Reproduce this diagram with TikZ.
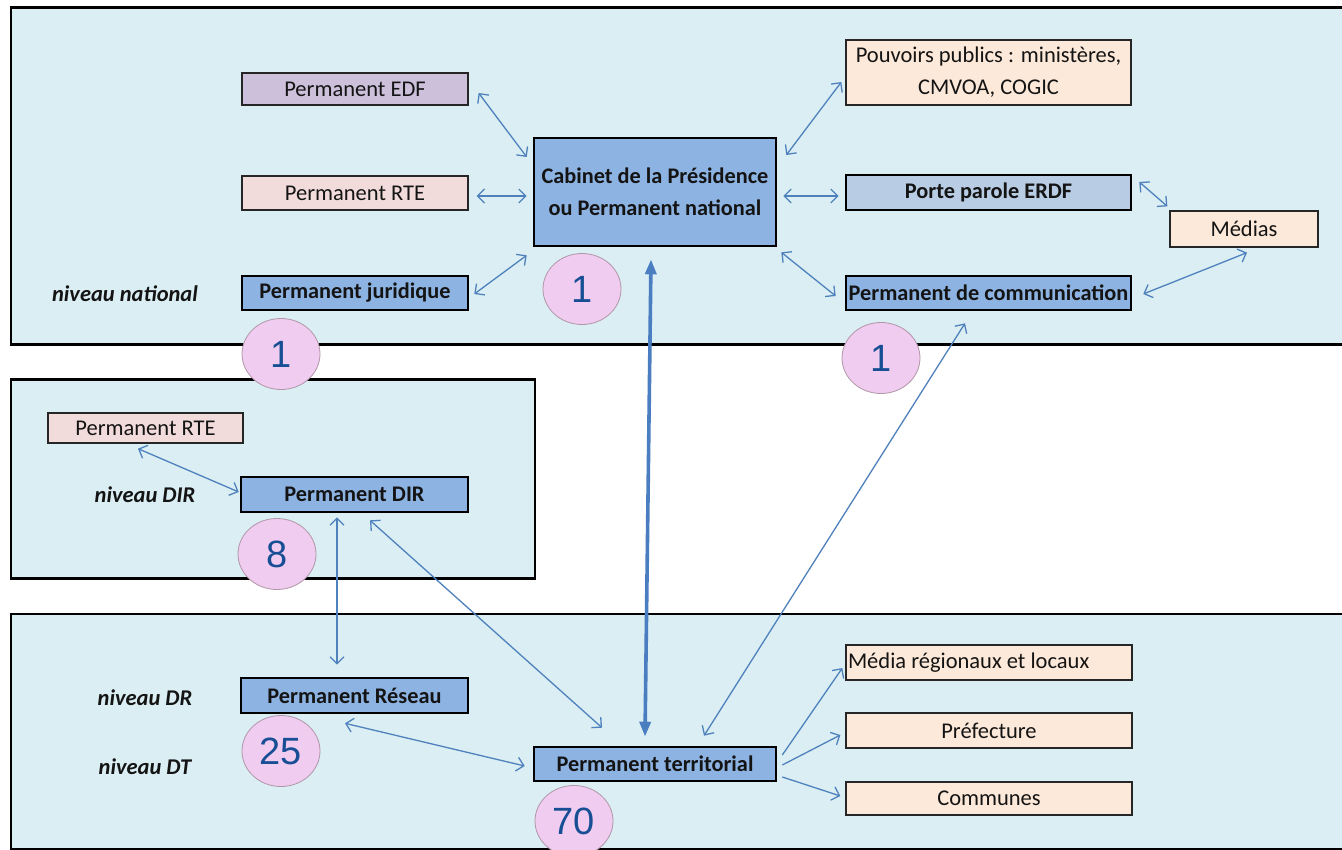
\documentclass[tikz,border=0pt]{standalone}
\usepackage{fontspec}
\setmainfont{Carlito}
\newfontfamily\numfont{Liberation Sans}
\usetikzlibrary{arrows.meta,calc,shapes.geometric}
\definecolor{framebg}{RGB}{218,238,243}
\definecolor{bluebox}{RGB}{141,179,226}
\definecolor{lightblue}{RGB}{184,204,228}
\definecolor{lavbox}{RGB}{204,192,218}
\definecolor{pinkbox}{RGB}{242,220,219}
\definecolor{peachbox}{RGB}{253,233,217}
\definecolor{arrowcol}{RGB}{79,129,189}
\definecolor{thickcol}{RGB}{74,126,193}
\definecolor{circfill}{RGB}{240,204,240}
\definecolor{circline}{RGB}{176,150,168}
\definecolor{numcol}{RGB}{24,78,148}
\definecolor{txt}{RGB}{20,20,20}
\tikzset{
  frame/.style={draw=black, line width=2.6pt, fill=framebg, rectangle, inner sep=0pt},
  plainbox/.style={draw=black!85, line width=1.3pt, rectangle, inner sep=0pt,
    font=\fontsize{22.5}{32}\selectfont, text=txt, align=center},
  boldbox/.style={draw=black, line width=2.6pt, rectangle, inner sep=0pt,
    font=\fontsize{22.3}{32}\selectfont\bfseries, text=txt, align=center, fill=bluebox},
  level/.style={font=\fontsize{22.5}{26}\selectfont\bfseries\itshape, text=txt, inner sep=0pt},
  count/.style={ellipse, draw=circline, line width=0.8pt, fill=circfill,
    minimum width=78pt, minimum height=71pt, inner sep=0pt,
    font=\numfont\fontsize{38}{40}\selectfont, text=numcol},
  link/.style={draw=arrowcol, line width=1.3pt,
    {Straight Barb[length=7pt,width=14pt,line width=1.3pt]}-{Straight Barb[length=7pt,width=14pt,line width=1.3pt]}},
  oneway/.style={draw=arrowcol, line width=1.3pt,
    -{Straight Barb[length=7pt,width=14pt,line width=1.3pt]}},
  biglink/.style={draw=thickcol, line width=3.6pt,
    {Triangle[length=15pt,width=11pt]}-{Triangle[length=15pt,width=11pt]}}
}
\begin{document}
\begin{tikzpicture}[x=1pt,y=-1pt]
\useasboundingbox (0,0) rectangle (1342,850);
\clip (0,0) rectangle (1342,850);
\fill[white] (0,0) rectangle (1342,850);
% frames
\node[frame, minimum width=1400pt, minimum height=337pt, anchor=north west] (fnat) at (9.5,6.5) {};
\node[frame, minimum width=524pt, minimum height=199pt, anchor=north west] (fdir) at (9.5,378) {};
\node[frame, minimum width=1400pt, minimum height=235pt, anchor=north west] (fdt) at (9.5,612.5) {};
% national boxes
\node[plainbox, fill=lavbox, minimum width=226pt, minimum height=32pt] (edf) at (355,89) {Permanent EDF};
\node[plainbox, fill=pinkbox, minimum width=226pt, minimum height=34pt] (rte1) at (355,193) {Permanent RTE};
\node[boldbox, minimum width=226pt, minimum height=34pt] (jur) at (355,293) {Permanent juridique};
\node[boldbox, minimum width=242pt, minimum height=108pt] (cab) at (655,192) {Cabinet de la Présidence\\ou Permanent national};
\node[plainbox, fill=peachbox, minimum width=285pt, minimum height=65pt] (pouv) at (988.5,72.5) {Pouvoirs publics : ministères,\\CMVOA, COGIC};
\node[boldbox, fill=lightblue, minimum width=285pt, minimum height=35pt] (porte) at (988.5,192.5) {Porte parole ERDF};
\node[plainbox, fill=peachbox, minimum width=148pt, minimum height=36pt] (medias) at (1244,229) {Médias};
\node[boldbox, minimum width=285pt, minimum height=34pt] (comm) at (988.5,293) {Permanent de communication};
\node[level] (lnat) at (125,294) {niveau national};
% DIR
\node[plainbox, fill=pinkbox, minimum width=195pt, minimum height=30pt] (rte2) at (145.5,428) {Permanent RTE};
\node[boldbox, minimum width=227pt, minimum height=35pt] (dir) at (354.5,494.5) {Permanent DIR};
\node[level] (ldir) at (145,495) {niveau DIR};
% DR / DT
\node[boldbox, minimum width=227pt, minimum height=35pt] (res) at (354.5,695.5) {Permanent Réseau};
\node[boldbox, minimum width=242pt, minimum height=34pt] (terr) at (655,764) {Permanent territorial};
\node[level] (ldr) at (145,698) {niveau DR};
\node[level] (ldt) at (145,767) {niveau DT};
\node[plainbox, fill=peachbox, minimum width=286pt, minimum height=35pt, text width=282pt, align=flush left] (mrl) at (989,662.5) {Média régionaux et locaux};
\node[plainbox, fill=peachbox, minimum width=286pt, minimum height=35pt] (pref) at (989,730.5) {Préfecture};
\node[plainbox, fill=peachbox, minimum width=286pt, minimum height=33pt] (comn) at (989,798.5) {Communes};
% arrows
\draw[link] ($(edf.east)+(10,4)$) -- ($(cab.west)+(-6,-35)$);
\draw[link] ($(rte1.east)+(8,3)$) -- ($(cab.west)+(-6,4)$);
\draw[link] ($(jur.east)+(5,1)$) -- ($(cab.south west)+(-6,8)$);
\draw[link] ($(cab.east)+(9,-37)$) -- ($(pouv.west)+(-4,9.5)$);
\draw[link] ($(cab.east)+(6,4)$) -- ($(porte.west)+(-6,3.5)$);
\draw[link] ($(cab.south east)+(4,5)$) -- ($(comm.west)+(-9,3)$);
\draw[link] ($(porte.east)+(7,-10.5)$) -- ($(medias.north west)+(-2,-4)$);
\draw[link] ($(comm.east)+(11,1)$) -- ($(medias.south)+(3,5)$);
\draw[link] ($(comm.south)+(-23.5,12)$) -- ($(terr.north)+(49,-10)$);
\draw[link] ($(rte2.south)+(-7.5,5)$) -- ($(dir.west)+(-1,-2.5)$);
\draw[link] ($(dir.south)+(-17.5,4)$) -- ($(res.north)+(-17.5,-12)$);
\draw[link] ($(dir.south)+(15.5,7)$) -- ($(terr.north)+(-53,-18)$);
\draw[link] ($(res.south)+(-9.5,9)$) -- ($(terr.west)+(-8,2)$);
\draw[oneway] ($(terr.east)+(5,-9)$) -- ($(mrl.west)+(-3,5.5)$);
\draw[oneway] ($(terr.east)+(5,1)$) -- ($(pref.west)+(-5,4.5)$);
\draw[oneway] ($(terr.east)+(5,13)$) -- ($(comn.west)+(-5,-2.5)$);
\draw[biglink] ($(cab.south)+(-4,12)$) -- ($(terr.north)+(-10,-9)$);
% counts
\node[count] (n1) at (281,354) {1};
\node[count] (n2) at (582,289) {1};
\node[count] (n3) at (881,358) {1};
\node[count] (n4) at (277,554) {8};
\node[count] (n5) at (281,751) {25};
\node[count] (n6) at (574,821) {70};
\end{tikzpicture}
\end{document}
